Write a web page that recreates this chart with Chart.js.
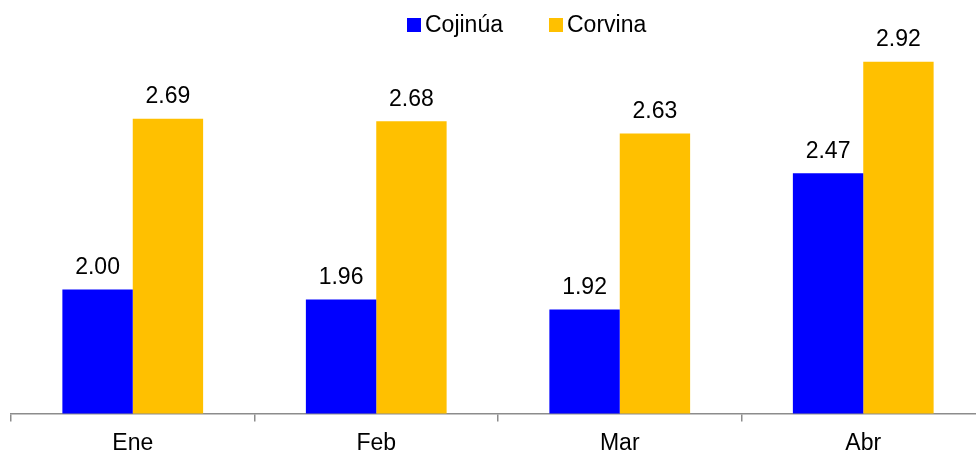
<!DOCTYPE html>
<html>
<head>
<meta charset="utf-8">
<script src="https://cdn.jsdelivr.net/npm/chart.js@4.4.1/dist/chart.umd.min.js"></script>
<style>
  html, body { margin: 0; padding: 0; background: #fff; overflow: hidden; }
  #wrap { width: 985px; height: 465px; position: relative; }
</style>
</head>
<body>
<div id="wrap"><canvas id="c"></canvas></div>
<script>
const categories = ["Ene", "Feb", "Mar", "Abr"];
const seriesNames = ["Cojinúa", "Corvina"];
const cojinua = [2.00, 1.96, 1.92, 2.47];
const corvina = [2.69, 2.68, 2.63, 2.92];
const seriesColors = ["#0000FF", "#FFC000"];

const FONT = "'Liberation Sans', Arial, sans-serif";

const valueLabels = {
  id: 'valueLabels',
  afterDatasetsDraw(chart) {
    const ctx = chart.ctx;
    ctx.save();
    ctx.font = "23px " + FONT;
    ctx.fillStyle = "#000";
    ctx.textAlign = "center";
    ctx.textBaseline = "alphabetic";
    chart.data.datasets.forEach((ds, i) => {
      chart.getDatasetMeta(i).data.forEach((bar, j) => {
        ctx.fillText(ds.data[j].toFixed(2), bar.x, bar.y - 15.5);
      });
    });
    ctx.restore();
  }
};

const customLegend = {
  id: 'customLegend',
  afterDraw(chart) {
    const ctx = chart.ctx;
    ctx.save();
    ctx.font = "23px " + FONT;
    ctx.textBaseline = "middle";
    ctx.textAlign = "left";
    let x = 407;
    const yc = 25;
    chart.data.datasets.forEach((ds) => {
      ctx.fillStyle = ds.backgroundColor;
      ctx.fillRect(x, yc - 7, 14, 14);
      ctx.fillStyle = "#000";
      ctx.fillText(ds.label, x + 18, yc + 1);
      x += 18 + ctx.measureText(ds.label).width + 46;
    });
    ctx.restore();
  }
};

new Chart(document.getElementById('c'), {
  type: 'bar',
  data: {
    labels: categories,
    datasets: [
      { label: seriesNames[0], data: cojinua, backgroundColor: seriesColors[0] },
      { label: seriesNames[1], data: corvina, backgroundColor: seriesColors[1] }
    ]
  },
  options: {
    responsive: true,
    maintainAspectRatio: false,
    animation: false,
    events: [],
    layout: { padding: { left: 11, right: 0, top: 42, bottom: 0 } },
    datasets: { bar: { categoryPercentage: 0.578, barPercentage: 1.0 } },
    plugins: {
      legend: { display: false },
      tooltip: { enabled: false }
    },
    scales: {
      x: {
        grid: { display: true, drawOnChartArea: false, drawTicks: true, tickLength: 8, color: '#8c8c8c', lineWidth: 1.5, offset: true },
        border: { display: true, color: '#8c8c8c', width: 1.5 },
        ticks: { color: '#000', font: { family: FONT, size: 23 }, padding: 8 }
      },
      y: {
        display: false,
        min: 1.5,
        max: 3.0
      }
    }
  },
  plugins: [valueLabels, customLegend]
});
</script>
</body>
</html>
